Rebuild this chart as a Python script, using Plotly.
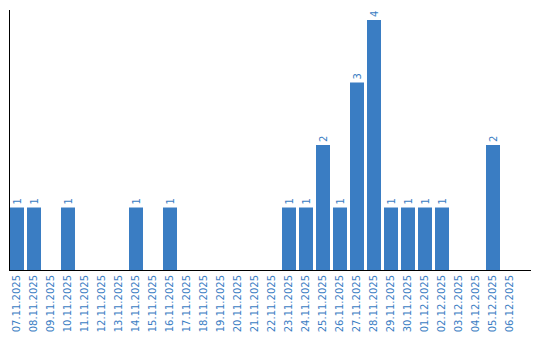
import plotly.graph_objects as go

dates = ["07.11.2025","08.11.2025","09.11.2025","10.11.2025","11.11.2025","12.11.2025",
         "13.11.2025","14.11.2025","15.11.2025","16.11.2025","17.11.2025","18.11.2025",
         "19.11.2025","20.11.2025","21.11.2025","22.11.2025","23.11.2025","24.11.2025",
         "25.11.2025","26.11.2025","27.11.2025","28.11.2025","29.11.2025","30.11.2025",
         "01.12.2025","02.12.2025","03.12.2025","04.12.2025","05.12.2025","06.12.2025"]
counts = [1,1,0,1,0,0,0,1,0,1,0,0,0,0,0,0,1,1,2,1,3,4,1,1,1,1,0,0,2,0]

blue = "#3a7dc3"
labels = [str(v) if v > 0 else "" for v in counts]

fig = go.Figure(go.Bar(
    x=dates, y=counts, marker_color=blue, marker_line_width=0,
    text=labels, textposition="outside", textangle=-90,
    textfont=dict(color=blue, size=10, family="DejaVu Sans"),
    cliponaxis=False,
))
fig.update_layout(
    width=540, height=340,
    margin=dict(l=10, r=9, t=10, b=70),
    paper_bgcolor="white", plot_bgcolor="white",
    bargap=3/17, showlegend=False,
    font=dict(family="DejaVu Sans", size=10, color=blue),
)
fig.update_xaxes(type="category", tickangle=-90, showline=True, linecolor="black",
                 linewidth=1, showgrid=False, ticks="",
                 range=[-7/17, 521/17 - 7/17],
                 tickfont=dict(color=blue, size=10, family="DejaVu Sans"))
fig.update_yaxes(range=[0, 4.16], showline=True, linecolor="black", linewidth=1,
                 showgrid=False, showticklabels=False, ticks="", zeroline=False)
fig.write_html("out.html")
